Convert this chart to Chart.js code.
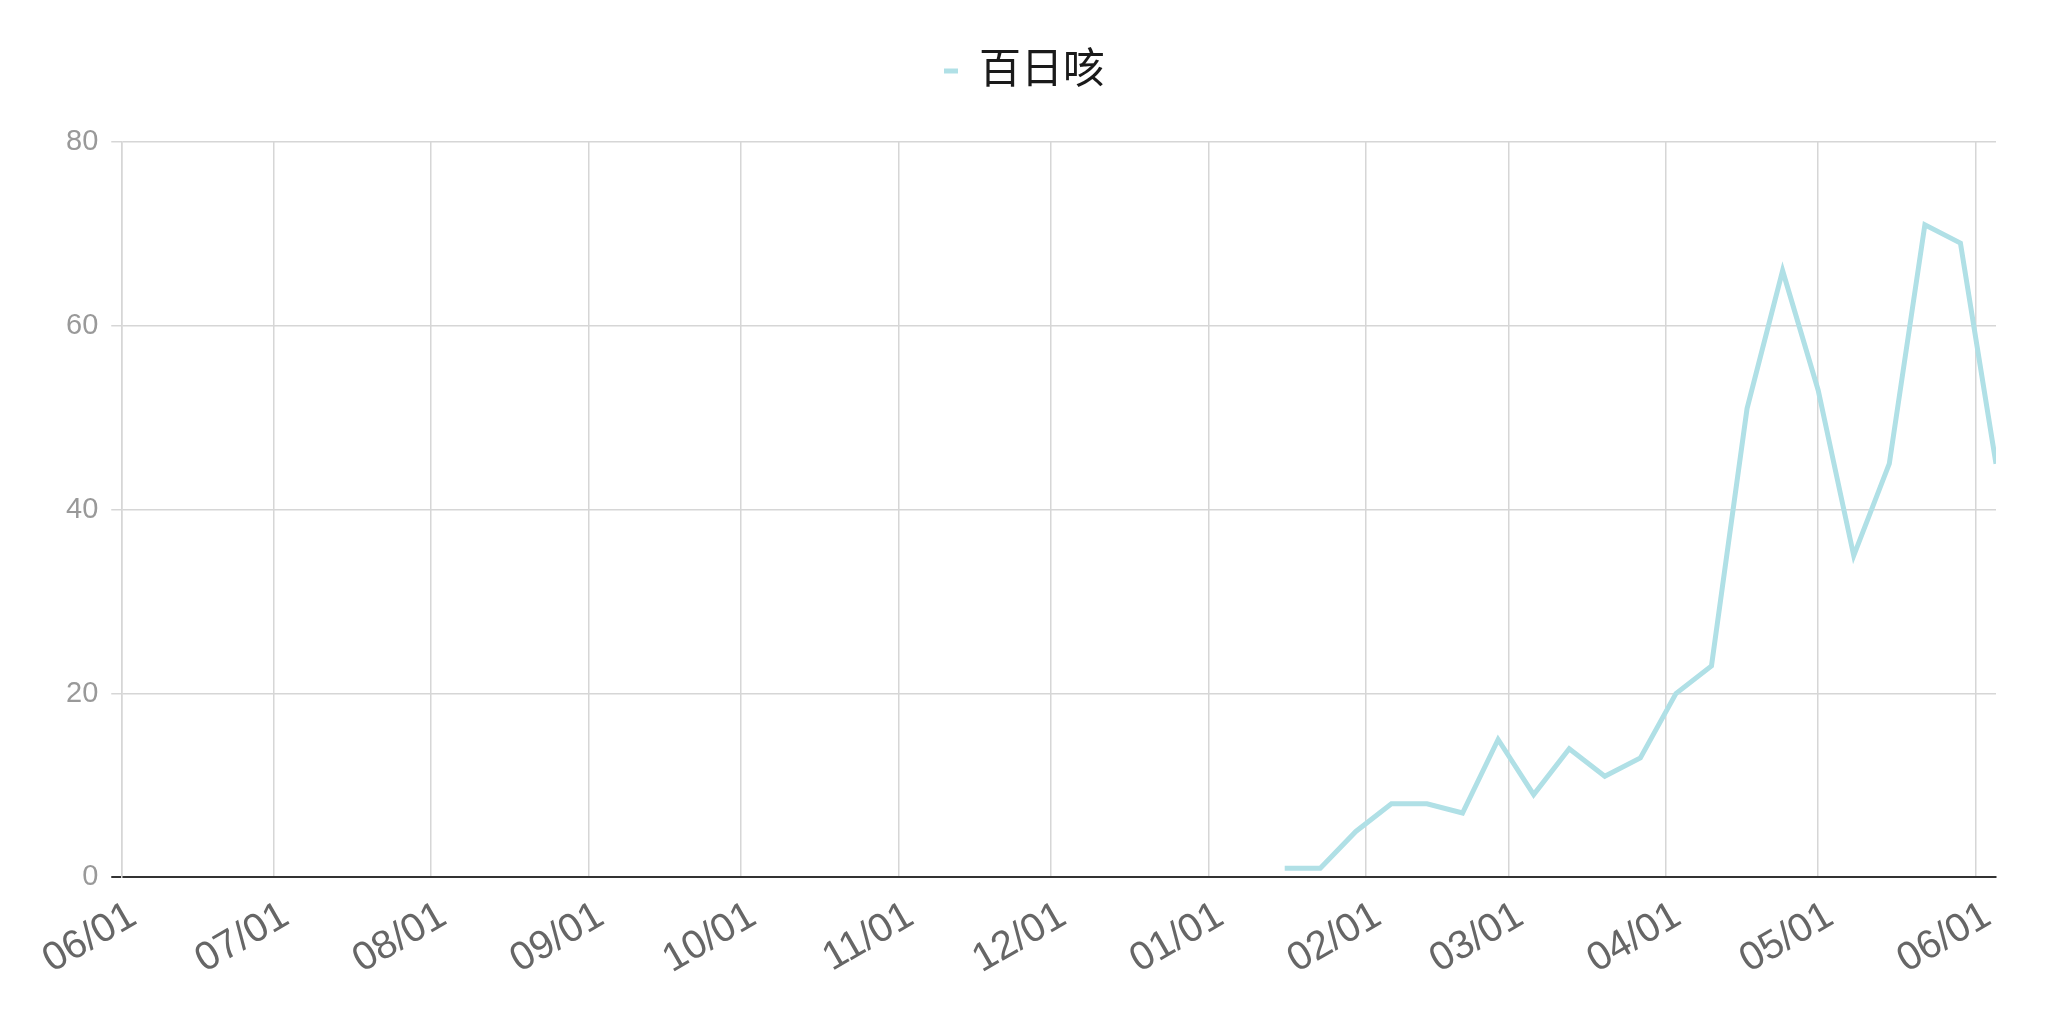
<!DOCTYPE html>
<html lang="zh">
<head>
    <meta charset="UTF-8" />
    <title>百日咳</title>
    <script src="https://cdn.jsdelivr.net/npm/chart.js"></script>
    <style>
        html, body { margin: 0; padding: 0; background: #fff; }
        #wrap { width: 2048px; height: 1021px; }
    </style>
</head>
<body>
    <div id="wrap"><canvas id="chart"></canvas></div>

    <script>
        // weekly counts
        const weekDates = [
            "2023-01-16", "2023-01-23", "2023-01-30", "2023-02-06", "2023-02-13",
            "2023-02-20", "2023-02-27", "2023-03-06", "2023-03-13", "2023-03-20",
            "2023-03-27", "2023-04-03", "2023-04-10", "2023-04-17", "2023-04-24",
            "2023-05-01", "2023-05-08", "2023-05-15", "2023-05-22", "2023-05-29",
            "2023-06-05"
        ];
        const pertussis = [1, 1, 5, 8, 8, 7, 15, 9, 14, 11, 13, 20, 23, 51, 66, 53, 35, 45, 71, 69, 45];

        // x axis: month ticks
        const tickDates = [
            "2022-06-01", "2022-07-01", "2022-08-01", "2022-09-01", "2022-10-01", "2022-11-01",
            "2022-12-01", "2023-01-01", "2023-02-01", "2023-03-01", "2023-04-01", "2023-05-01",
            "2023-06-01"
        ];
        const tickLabels = ["06/01", "07/01", "08/01", "09/01", "10/01", "11/01", "12/01",
                            "01/01", "02/01", "03/01", "04/01", "05/01", "06/01"];
        const yTicks = [0, 20, 40, 60, 80];

        const dayNum = s => {
            const p = s.split("-").map(Number);
            return Date.UTC(p[0], p[1] - 1, p[2]) / 86400000;
        };

        const fontFamily = "'Liberation Sans', 'Noto Sans CJK SC', Arial, sans-serif";

        // extra room under the legend
        const legendSpacer = {
            id: "legendSpacer",
            beforeInit(chart) {
                const fit = chart.legend.fit;
                chart.legend.fit = function () {
                    fit.call(this);
                    this.height += 40;
                };
            }
        };

        const ctx = document.getElementById("chart").getContext("2d");
        new Chart(ctx, {
            type: "line",
            data: {
                datasets: [{
                    label: "百日咳",
                    data: weekDates.map((d, i) => ({ x: dayNum(d), y: pertussis[i] })),
                    borderColor: "rgb(176, 224, 230)",
                    backgroundColor: "rgb(176, 224, 230)",
                    borderWidth: 5,
                    pointRadius: 0,
                    pointHoverRadius: 0,
                    tension: 0,
                    fill: false
                }]
            },
            plugins: [legendSpacer],
            options: {
                responsive: true,
                maintainAspectRatio: false,
                animation: false,
                layout: { padding: { top: 38, right: 52, bottom: 22, left: 53 } },
                plugins: {
                    legend: {
                        labels: {
                            boxWidth: 14,
                            boxHeight: 5,
                            color: "#1a1a1a",
                            font: { family: fontFamily, size: 42 },
                            padding: 12,
                            generateLabels: chart =>
                                Chart.defaults.plugins.legend.labels.generateLabels(chart)
                                    .map(l => Object.assign(l, { lineWidth: 0 }))
                        }
                    },
                    tooltip: { enabled: false }
                },
                scales: {
                    x: {
                        type: "linear",
                        min: dayNum(tickDates[0]),
                        max: dayNum(weekDates[weekDates.length - 1]),
                        afterBuildTicks: axis => {
                            axis.ticks = tickDates.map(d => ({ value: dayNum(d) }));
                        },
                        grid: { color: "#d6d6d6", lineWidth: 1.5, drawTicks: false },
                        border: { color: "#333", width: 2 },
                        ticks: {
                            autoSkip: false,
                            maxRotation: 30,
                            minRotation: 30,
                            padding: 15,
                            labelOffset: 12,
                            color: "#666",
                            font: { family: fontFamily, size: 40 },
                            callback: (v, i) => tickLabels[i]
                        }
                    },
                    y: {
                        min: 0,
                        max: 80,
                        afterBuildTicks: axis => {
                            axis.ticks = yTicks.map(v => ({ value: v }));
                        },
                        grid: {
                            color: c => (c.tick && c.tick.value === 0 ? "#333" : "#d6d6d6"),
                            lineWidth: c => (c.tick && c.tick.value === 0 ? 2 : 1.5),
                            tickLength: 10
                        },
                        border: { color: "#d6d6d6", width: 1.5 },
                        ticks: {
                            padding: 13,
                            color: "#999",
                            font: { family: fontFamily, size: 29 }
                        }
                    }
                }
            }
        });
    </script>
</body>
</html>
